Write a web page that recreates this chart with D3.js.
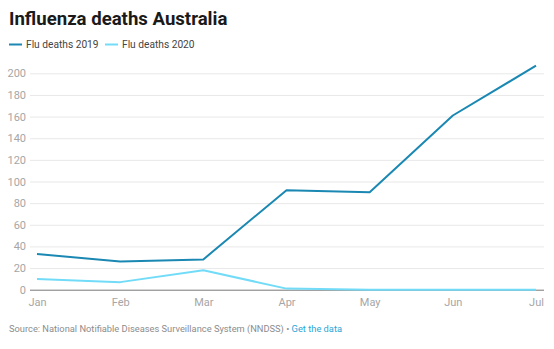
<!DOCTYPE html>
<html><head><meta charset="utf-8">
<script src="https://cdn.jsdelivr.net/npm/d3@7"></script>
<style>
body{margin:0;background:#fff;font-family:Roboto,"Noto Sans",sans-serif;}
svg{display:block}
</style></head><body>
<svg id="c" width="554" height="349"></svg>
<script>
const months = ["Jan","Feb","Mar","Apr","May","Jun","Jul"];
const deaths2019 = [33, 26, 28, 92, 90, 161, 207];
const deaths2020 = [10, 7, 18, 1, 0, 0, 0];
const yTicks = [0,20,40,60,80,100,120,140,160,180,200];
const seriesNames = ["Flu deaths 2019","Flu deaths 2020"];
const colors = ["#1a88b2","#72dcf8"];

const svg = d3.select("#c");
const x = d3.scalePoint().domain(months).range([37, 536]);
const y = d3.scaleLinear().domain([0,200]).range([289.7, 73.3]);

svg.append("text").attr("x",9).attr("y",24.5).text("Influenza deaths Australia")
  .attr("font-size",18.6).attr("font-weight",700).attr("fill","#1a1a1a");

// legend
const lg = svg.append("g");
const legX = [9, 105];
seriesNames.forEach((n,i)=>{
  lg.append("line").attr("x1",legX[i]).attr("x2",legX[i]+13).attr("y1",44.5).attr("y2",44.5)
    .attr("stroke",colors[i]).attr("stroke-width",2);
  lg.append("text").attr("x",legX[i]+17).attr("y",48.3).text(n)
    .attr("font-size",10.2).attr("fill","#444");
});

// grid
const yAxis = d3.axisLeft(y).tickValues(yTicks).tickSize(-(544-30)).tickPadding(4);
const gy = svg.append("g").attr("transform","translate(30,0)").call(yAxis);
gy.select(".domain").remove();
gy.selectAll(".tick line").attr("stroke","#e8e8e8");
gy.selectAll(".tick").filter(d=>d===0).select("line").attr("stroke","#777");
gy.selectAll(".tick text").attr("font-size",11).attr("fill","#a6a6a6").attr("font-family","Roboto");

const xAxis = d3.axisBottom(x).tickSize(0).tickPadding(9);
const gx = svg.append("g").attr("transform","translate(0,289.7)").call(xAxis);
gx.select(".domain").remove();
gx.selectAll(".tick text").attr("font-size",11).attr("fill","#a6a6a6").attr("font-family","Roboto");

const line = d3.line().x((d,i)=>x(months[i])).y(d=>y(d));
[deaths2020, deaths2019].forEach((s,k)=>{
  const i = k===0?1:0;
  svg.append("path").datum(s).attr("d",line).attr("fill","none")
    .attr("stroke",colors[i]).attr("stroke-width",2).attr("stroke-linejoin","round");
});

const ft = svg.append("text").attr("x",9).attr("y",331.5).attr("font-size",9.3);
ft.append("tspan").attr("fill","#8c8c8c").text("Source: National Notifiable Diseases Surveillance System (NNDSS) • ");
ft.append("tspan").attr("fill","#2aa6d8").text("Get the data");
</script></body></html>
